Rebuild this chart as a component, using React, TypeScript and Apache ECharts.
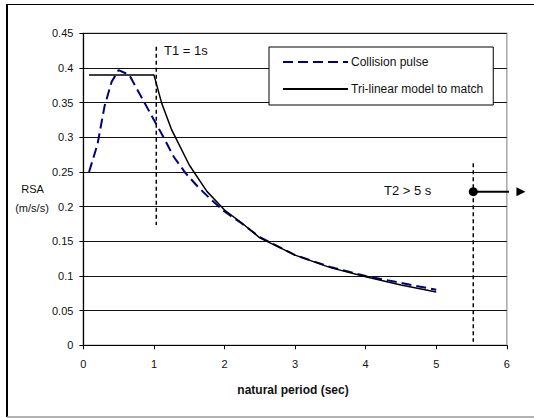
import React, { useEffect, useRef } from "react";
import * as echarts from "echarts";

// Collision pulse (dashed navy)
const pulseT = [0.08, 0.2, 0.3, 0.4, 0.5, 0.65, 0.8, 1.0, 1.13, 1.28, 1.45, 1.62, 1.81, 2.0, 2.24, 2.5, 3.0, 3.5, 4.0, 4.5, 5.0];
const pulseRSA = [0.25, 0.29, 0.345, 0.38, 0.397, 0.39, 0.362, 0.325, 0.301, 0.272, 0.248, 0.229, 0.21, 0.193, 0.176, 0.156, 0.13, 0.113, 0.1, 0.09, 0.08];

// Tri-linear model (solid black)
const triT = [0.08, 1.0, 1.11, 1.25, 1.5, 1.75, 2.0, 2.25, 2.5, 3.0, 3.5, 4.0, 4.5, 5.0];
const triRSA = [0.39, 0.39, 0.349, 0.311, 0.26, 0.222, 0.195, 0.176, 0.155, 0.13, 0.112, 0.099, 0.087, 0.077];

// Annotations
const t1Line = [[1.033, 0.4307], [1.033, 0.1735]];
const t2Line = [[5.525, 0.2625], [5.525, 0.005]];
const t2Arrow = [[5.525, 0.2215], [6.2, 0.2215]];

const yTicks = [0, 0.05, 0.1, 0.15, 0.2, 0.25, 0.3, 0.35, 0.4, 0.45];
const xTicks = [0, 1, 2, 3, 4, 5, 6];

const FONT = "'Liberation Sans', Arial, sans-serif";

export default function App() {
  const ref = useRef<HTMLDivElement>(null);
  useEffect(() => {
    if (!ref.current) return;
    const chart = echarts.init(ref.current, null, { renderer: "svg" });
    const option: any = {
      animation: false,
      backgroundColor: "#fff",
      textStyle: { fontFamily: FONT },
      grid: {
        left: 83.4,
        right: 27.2,
        top: 33.3,
        bottom: 72.7,
        show: true,
        borderColor: "#a8a8a8",
        borderWidth: 1.5,
        backgroundColor: "transparent",
      },
      legend: {
        data: ["Collision pulse", "Tri-linear model to match"],
        orient: "vertical",
        left: 269,
        top: 47,
        itemWidth: 65,
        itemHeight: 14,
        itemGap: 15,
        padding: [9, 10, 10, 13],
        backgroundColor: "#fff",
        borderColor: "#000",
        borderWidth: 1,
        borderRadius: 0,
        itemStyle: { opacity: 0 },
        textStyle: { fontSize: 12, color: "#111", fontFamily: FONT, padding: [0, 0, 0, -2] },
      },
      xAxis: {
        type: "value",
        min: xTicks[0],
        max: xTicks[xTicks.length - 1],
        interval: 1,
        axisLine: { show: true, lineStyle: { color: "#000", width: 1.2 } },
        axisTick: { show: true, length: 4, lineStyle: { color: "#000" } },
        axisLabel: { fontSize: 11, color: "#111", margin: 13, fontFamily: FONT },
        splitLine: { show: false },
      },
      yAxis: {
        type: "value",
        min: yTicks[0],
        max: yTicks[yTicks.length - 1],
        interval: 0.05,
        axisLine: { show: true, lineStyle: { color: "#000", width: 1.2 } },
        axisTick: { show: true, length: 4, lineStyle: { color: "#000" } },
        axisLabel: {
          fontSize: 11,
          color: "#111",
          margin: 10,
          fontFamily: FONT,
          formatter: (v: number) => String(+v.toFixed(2)),
        },
        splitLine: { show: true, lineStyle: { color: "#111", width: 1 } },
      },
      series: [
        {
          name: "Collision pulse",
          type: "line",
          data: pulseT.map((t, i) => [t, pulseRSA[i]]),
          symbol: "none",
          lineStyle: { color: "#000080", width: 2, type: [10, 5] },
          itemStyle: { color: "#000080" },
          z: 3,
        },
        {
          name: "Tri-linear model to match",
          type: "line",
          data: triT.map((t, i) => [t, triRSA[i]]),
          symbol: "none",
          lineStyle: { color: "#000", width: 1.5 },
          itemStyle: { color: "#000" },
          z: 4,
        },
        {
          name: "T1",
          type: "line",
          data: t1Line,
          symbol: "none",
          clip: false,
          lineStyle: { color: "#000", width: 1.5, type: [4, 3] },
          z: 5,
        },
        {
          name: "T2",
          type: "line",
          data: t2Line,
          symbol: "none",
          clip: false,
          lineStyle: { color: "#000", width: 1.5, type: [4, 3] },
          z: 5,
        },
        {
          name: "T2 arrow",
          type: "line",
          clip: false,
          data: [
            { value: t2Arrow[0], symbol: "circle", symbolSize: 9 },
            { value: t2Arrow[1], symbol: "triangle", symbolSize: 9, symbolRotate: -90 },
          ],
          showAllSymbol: true,
          lineStyle: { color: "#000", width: 2 },
          itemStyle: { color: "#000" },
          z: 6,
        },
      ],
      graphic: [
        { type: "line", shape: { x1: 7, y1: 4.5, x2: 534, y2: 4.5 }, style: { stroke: "#000", lineWidth: 1.2 } },
        { type: "line", shape: { x1: 7, y1: 4, x2: 7, y2: 417 }, style: { stroke: "#000", lineWidth: 2 } },
        { type: "line", shape: { x1: 7, y1: 417, x2: 534, y2: 417 }, style: { stroke: "#999", lineWidth: 1.5 } },
        {
          type: "text",
          x: 32.5,
          y: 189,
          style: { text: "RSA", font: `11px ${FONT}`, fill: "#111", textAlign: "center", textVerticalAlign: "middle" },
        },
        {
          type: "text",
          x: 32,
          y: 208,
          style: { text: "(m/s/s)", font: `11px ${FONT}`, fill: "#111", textAlign: "center", textVerticalAlign: "middle" },
        },
        {
          type: "text",
          x: 293,
          y: 390,
          style: { text: "natural period (sec)", font: `bold 12px ${FONT}`, fill: "#111", textAlign: "center", textVerticalAlign: "middle" },
        },
        {
          type: "text",
          x: 164,
          y: 50.5,
          style: { text: "T1 = 1s", font: `13px ${FONT}`, fill: "#111", textAlign: "left", textVerticalAlign: "middle" },
        },
        {
          type: "text",
          x: 384,
          y: 190.5,
          style: { text: "T2 > 5 s", font: `13px ${FONT}`, fill: "#111", textAlign: "left", textVerticalAlign: "middle" },
        },
      ],
    };
    chart.setOption(option);
    return () => chart.dispose();
  }, []);
  return (
    <div
      ref={ref}
      style={{ position: "fixed", left: 0, top: 0, width: 534, height: 418 }}
    />
  );
}
